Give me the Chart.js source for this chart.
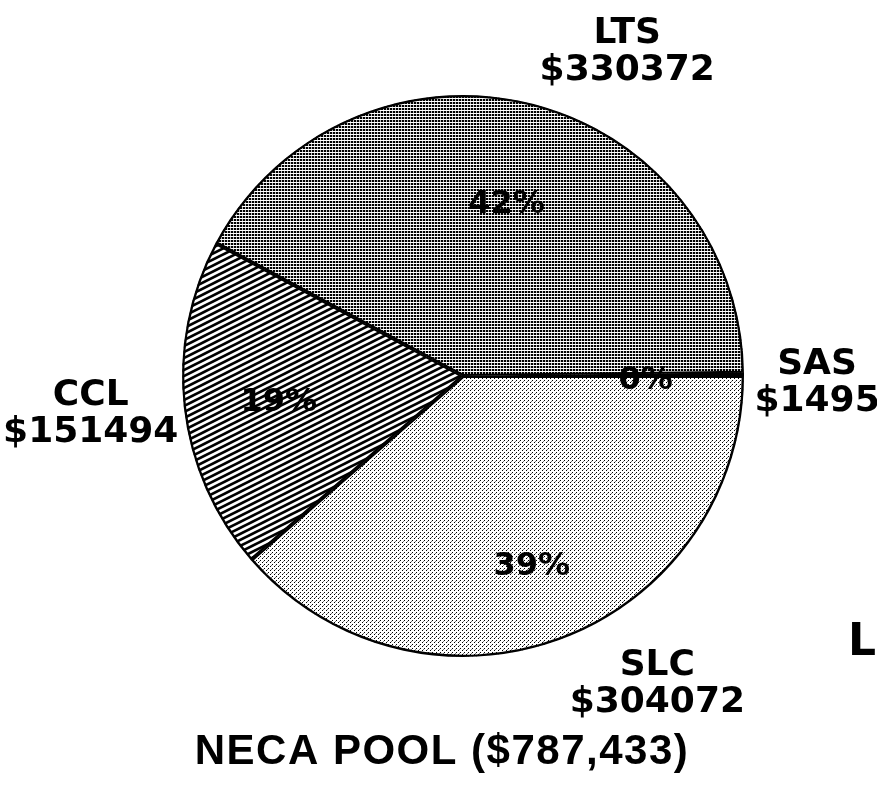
<!DOCTYPE html>
<html>
<head>
<meta charset="utf-8">
<script src="https://cdn.jsdelivr.net/npm/chart.js@4/dist/chart.umd.min.js"></script>
<style>
  html, body { margin: 0; padding: 0; background: #fff; }
  #wrap { width: 877px; height: 786px; }
</style>
</head>
<body>
<div id="wrap"><canvas id="pie" width="877" height="786"></canvas></div>
<script>
// === DATA ===
const categories = ['SLC', 'CCL', 'LTS', 'SAS'];
const amounts = [304072, 151494, 330372, 1495];
const valueLabels = ['$304072', '$151494', '$330372', '$1495'];
const chartTitle = 'NECA POOL ($787,433)';
const cutLabel = 'LC';

// === PATTERNS ===
function makeTile(w, h, draw) {
  const c = document.createElement('canvas');
  c.width = w; c.height = h;
  const g = c.getContext('2d');
  g.fillStyle = '#fff';
  g.fillRect(0, 0, w, h);
  draw(g, w, h);
  return c;
}

const ctx = document.getElementById('pie').getContext('2d');

// dense dot grid (LTS)
const dotGrid = ctx.createPattern(makeTile(3, 3, g => {
  g.fillStyle = '#000';
  g.fillRect(0, 0, 2, 2);
  g.fillStyle = '#bbb';
  g.fillRect(2, 0, 1, 2);
}), 'repeat');

// diagonal hatch (CCL)
const hatch = ctx.createPattern(makeTile(12, 6, (g, w, h) => {
  g.strokeStyle = '#000';
  g.lineWidth = 2.6;
  [-h, 0, h].forEach(o => {
    g.beginPath();
    g.moveTo(-1, h + o + 0.5);
    g.lineTo(w + 1, o - 0.5);
    g.stroke();
  });
}), 'repeat');

// sparse stipple (SLC)
const stipple = ctx.createPattern(makeTile(4, 4, g => {
  g.fillStyle = '#000';
  g.fillRect(0, 0, 1, 1);
  g.fillRect(2, 2, 1, 1);
  g.fillStyle = '#777';
  g.fillRect(3, 1, 1, 1);
}), 'repeat');

const fills = [stipple, hatch, dotGrid, stipple];

// === LABEL PLUGIN ===
const pieLabels = {
  id: 'pieLabels',
  afterDatasetsDraw(chart, args, opts) {
    const c = chart.ctx;
    const arcs = chart.getDatasetMeta(0).data;
    const total = amounts.reduce((a, b) => a + b, 0);
    c.save();
    c.fillStyle = '#000';
    c.textAlign = 'center';

    arcs.forEach((arc, i) => {
      const { x, y, startAngle, endAngle, outerRadius } = arc.getProps(['x', 'y', 'startAngle', 'endAngle', 'outerRadius'], true);
      const mid = (startAngle + endAngle) / 2;
      // percent inside
      const pr = outerRadius * opts.pctRadius[i];
      const pct = Math.round(amounts[i] / total * 100) + '%';
      c.textBaseline = 'middle';
      c.font = 'bold 32px "DejaVu Sans"';
      c.fillText(pct, x + Math.cos(mid) * pr, y + Math.sin(mid) * pr + 6);

      // name + value outside
      const [deg, f] = opts.outerPos[i];
      const a = deg * Math.PI / 180;
      const ox = x + Math.cos(a) * outerRadius * f;
      const oy = y + Math.sin(a) * outerRadius * f;
      c.textBaseline = 'alphabetic';
      c.font = 'bold 36px "DejaVu Sans"';
      c.fillText(categories[i], ox, oy - 4);
      c.fillText(valueLabels[i], ox, oy + 33);
    });

    // title
    c.textBaseline = 'alphabetic';
    c.font = 'bold 42px "Liberation Sans"';
    c.letterSpacing = '1.5px';
    c.fillText(chartTitle, 442, 764);
    c.letterSpacing = '0px';

    // cut-off label at right edge
    c.textAlign = 'left';
    c.font = 'bold 44px "DejaVu Sans"';
    c.fillText(cutLabel, 848, 655);
    c.restore();
  }
};

// === CHART ===
new Chart(ctx, {
  type: 'pie',
  data: {
    labels: categories,
    datasets: [{
      data: amounts,
      backgroundColor: fills,
      borderColor: '#000',
      borderWidth: 2,
      borderAlign: 'inner',
      radius: 281
    }]
  },
  options: {
    responsive: false,
    animation: false,
    devicePixelRatio: 1,
    rotation: 90,
    layout: { padding: { left: 181, right: 132, top: 94, bottom: 128 } },
    plugins: {
      legend: { display: false },
      tooltip: { enabled: false },
      title: { display: false },
      pieLabels: {
        pctRadius: [0.7, 0.66, 0.65, 0.65],
        outerPos: [[57.3, 1.28], [174.9, 1.33], [296.5, 1.31], [0.3, 1.26]]
      }
    }
  },
  plugins: [pieLabels]
});
</script>
</body>
</html>
